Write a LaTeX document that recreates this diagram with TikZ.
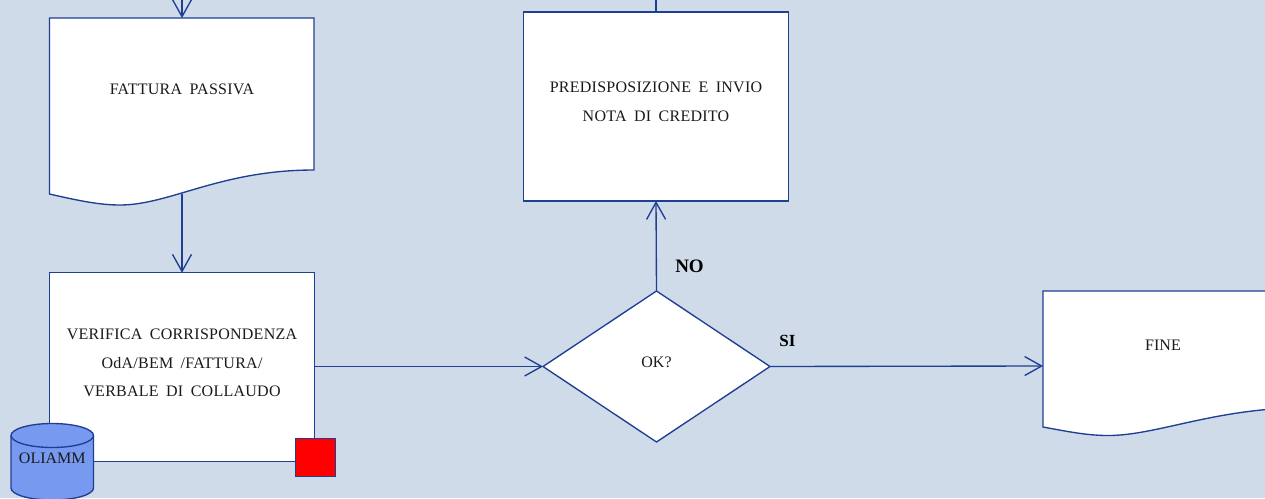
\documentclass[tikz,border=0pt]{standalone}
\usepackage{fontspec}
\setmainfont{Liberation Serif}
\newfontfamily\bodyfont[LetterSpace=1.6,WordSpace=1.75]{Liberation Serif}
\usetikzlibrary{arrows.meta,shapes.geometric}
\definecolor{bgc}{HTML}{CFDBE9}
\definecolor{linec}{HTML}{1F3F93}
\definecolor{cylc}{HTML}{7799F0}
\definecolor{txtc}{HTML}{1A1A1A}
\tikzset{
  x=1pt,y=-1pt,
  every node/.style={inner sep=0pt,outer sep=0pt,text=txtc,font=\bodyfont\fontsize{16}{28.6}\selectfont,align=center},
  plainlab/.style={font=\rmfamily\fontsize{16}{20}\selectfont},
  shapeline/.style={draw=linec,line width=1.35pt,fill=white,line join=miter},
  boxnode/.style={shapeline,rectangle,minimum width=264.5pt},
  conn/.style={draw=linec,line width=1.35pt},
  flow/.style={conn,-{Straight Barb[length=17pt,width=19pt,line width=1.35pt]}},
  lab/.style={font=\rmfamily\fontsize{#1}{20}\selectfont\bfseries,text=black},
}
\begin{document}
\begin{tikzpicture}
\useasboundingbox (0,0) rectangle (1265,498);
\clip (0,0) rectangle (1265,498);
\fill[bgc] (0,0) rectangle (1265,498);

% free ends above the picture
\coordinate (topa) at (182,-8);
\coordinate (topb) at (656,-8);

% FATTURA PASSIVA document
\draw[shapeline] (49.5,18) -- (314,18) -- (314,170)
  .. controls (220,170) and (170,205) .. (120,205)
  .. controls (100,205) and (80,201) .. (49.5,194) -- cycle;
\node (fattura) at (182,89.5) {FATTURA PASSIVA};
\coordinate (fatturatop) at (182,18);
\coordinate (fatturabot) at (182,194);

% verifica box
\node[boxnode,minimum height=188.5pt] (verifica) at (182,367) {};
\node (verificatext) at (182,363) {VERIFICA CORRISPONDENZA\\OdA/BEM /FATTURA/\\VERBALE DI COLLAUDO};

% predisposizione box
\node[boxnode,minimum height=189pt] (predisp) at (656,106.5) {};
\node (predisptext) at (656,102) {PREDISPOSIZIONE E INVIO\\NOTA DI CREDITO};

% decision
\node[diamond,shapeline,minimum width=227pt,minimum height=151pt] (ok) at (656.5,366.5) {};
\node[plainlab] (oktext) at (656.5,362) {OK?};

% FINE document
\draw[shapeline] (1043,291) -- (1310,291) -- (1310,407.5)
  .. controls (1215,407.5) and (1158,435.5) .. (1108,435.5)
  .. controls (1088,435.5) and (1070,432) .. (1043,427) -- cycle;
\node[plainlab] (fine) at (1163,345) {FINE};
\coordinate (fineleft) at (1043,366);

% connectors
\draw[flow] (topa) -- (fatturatop);
\draw[flow] (fatturabot) -- (verifica.north);
\draw[flow] (verifica.east |- ok.west) -- (ok.west);
\draw[flow] (ok.north) -- (predisp.south);
\draw[flow] (ok.east) -- (fineleft);
\draw[conn] (topb) -- (predisp.north);

% database and marker
\draw[draw=linec,line width=1.35pt,fill=cylc] (11,435.5)
  arc[start angle=180,end angle=0,x radius=41.25,y radius=-12]
  -- (93.5,488)
  arc[start angle=0,end angle=-180,x radius=41.25,y radius=-12]
  -- cycle;
\draw[draw=linec,line width=1.35pt] (11,435.5)
  arc[start angle=180,end angle=360,x radius=41.25,y radius=-12];
\node[plainlab] (oliamm) at (52.3,458.5) {OLIAMM};
\node[draw=linec,line width=1pt,fill=red,minimum width=40pt,minimum height=38pt] (mark) at (315,457) {};

% branch labels
\node[lab=19] (nolab) at (689.5,266) {NO};
\node[lab=17] (silab) at (787.5,340.5) {SI};
\end{tikzpicture}
\end{document}
